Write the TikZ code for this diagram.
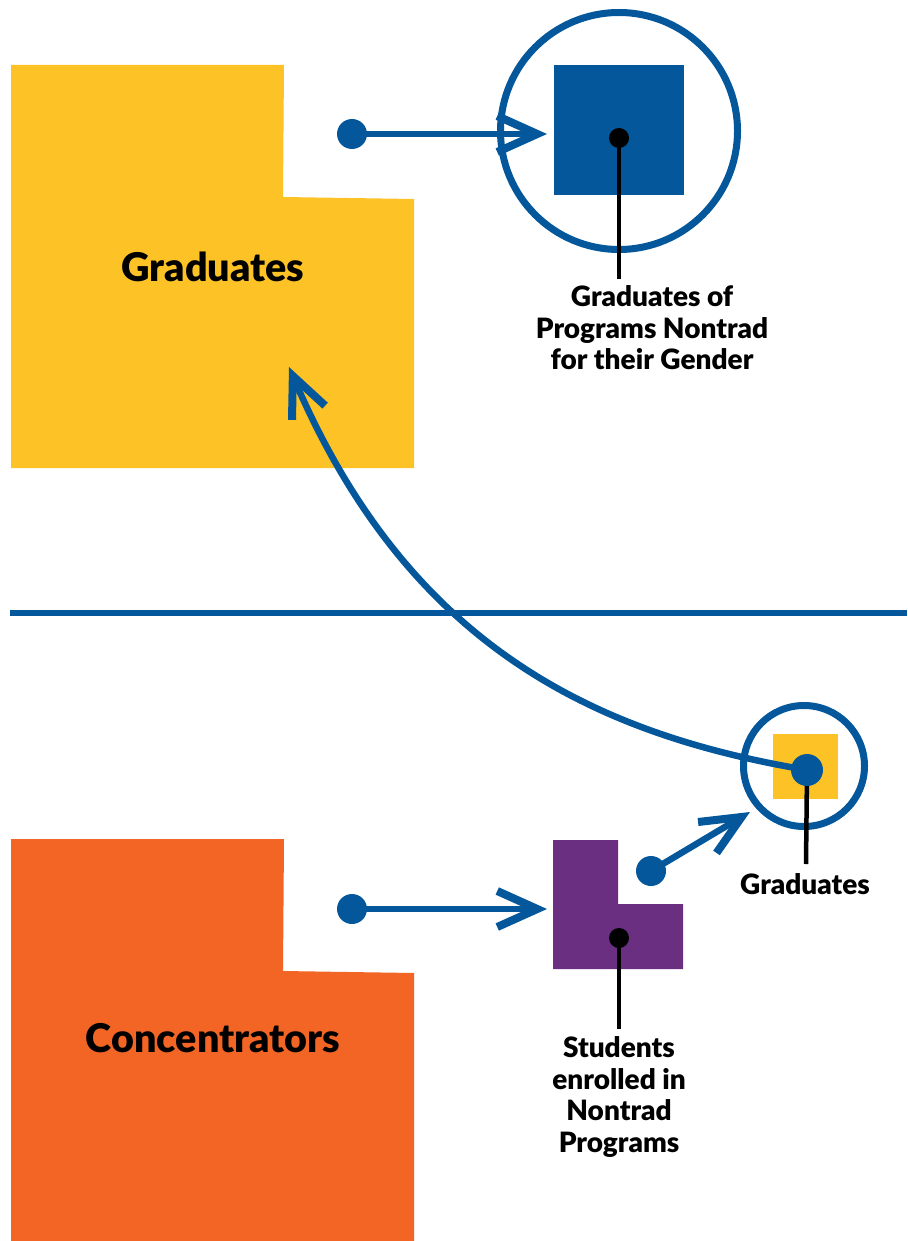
\documentclass[tikz,border=0pt]{standalone}
\usepackage{fontspec}
\setmainfont{Lato}[BoldFont={Lato Black}]
\usetikzlibrary{arrows.meta}
\definecolor{gyellow}{HTML}{FDC326}
\definecolor{corange}{HTML}{F26524}
\definecolor{nblue}{HTML}{03579A}
\definecolor{npurple}{HTML}{6A2F80}
\begin{document}
\begin{tikzpicture}[x=1pt,y=-1pt,
  dot/.style={circle,fill=nblue,inner sep=0pt,minimum size=30pt},
  bdot/.style={circle,fill=black,inner sep=0pt,minimum size=20pt},
  flow/.style={draw=nblue,line width=6.5pt,-{Straight Barb[length=40pt,width=36pt,line width=8pt]}},
  ring/.style={circle,draw=nblue,line width=7pt,inner sep=0pt},
  lead/.style={draw=black,line width=4.5pt},
  big/.style={font=\fontsize{39.5}{42}\selectfont\bfseries},
  small/.style={font=\fontsize{28}{31.5}\selectfont\bfseries,align=center}]
\useasboundingbox (0,0) rectangle (907,1241);
% big shapes
\fill[gyellow] (11,65) -- (284,65) -- (283,197) -- (414,199) -- (414,468) -- (11,468) -- cycle;
\fill[corange] (11,839) -- (284,839) -- (283,971) -- (414,973) -- (414,1241) -- (11,1241) -- cycle;
\node[big] (grad) at (213,267) {Graduates};
\node[big] (conc) at (213,1038) {Concentrators};
% separator
\coordinate (sepL) at (10,613);
\coordinate (sepR) at (907,613);
\draw[nblue,line width=5.5pt] (sepL) -- (sepR);
% top right group
\node[ring,minimum size=237pt] (bigring) at (619,131) {};
\node[fill=nblue,inner sep=0pt,minimum size=130pt] (bsq) at (619,130) {};
\coordinate (bsqlead) at (619,279);
\draw[lead] (619,138) -- (bsqlead);
\node[bdot] (bsqdot) at (619,138) {};
\node[small] (lab1) at (652,328) {Graduates of\\Programs Nontrad\\for their Gender};
\node[dot] (tdot) at (352,134) {};
\coordinate (ttip) at (547,134);
\draw[flow] (tdot.center) -- (ttip);
% bottom right group
\fill[npurple] (553,840) -- (618,840) -- (618,904) -- (683,904) -- (683,969) -- (553,969) -- cycle;
\coordinate (pcenter) at (619,938);
\coordinate (plead) at (619,1029);
\draw[lead] (pcenter) -- (plead);
\node[bdot] (pdot) at (pcenter) {};
\node[small] (lab2) at (619,1097) {Students\\enrolled in\\Nontrad\\Programs};
\node[dot] (cdot) at (352,909) {};
\coordinate (ctip) at (547,909);
\draw[flow] (cdot.center) -- (ctip);
% small graduates ring
\node[ring,minimum size=121pt] (smring) at (804,766) {};
\node[fill=gyellow,inner sep=0pt,minimum size=65pt] (ssq) at (805.5,766) {};
\coordinate (gcenter) at (807,770);
\coordinate (glead) at (806,864);
\draw[lead] (gcenter) -- (glead);
\node[small] (lab3) at (805,884) {Graduates};
\coordinate (gtip) at (289,367);
\draw[flow] (gcenter) .. controls (600,735) and (410,650) .. (gtip);
\node[dot,minimum size=32pt] (gdot) at (gcenter) {};
\node[dot] (pudot) at (651,871) {};
\coordinate (putip) at (750,812);
\draw[flow] (pudot.center) -- (putip);
\end{tikzpicture}
\end{document}
